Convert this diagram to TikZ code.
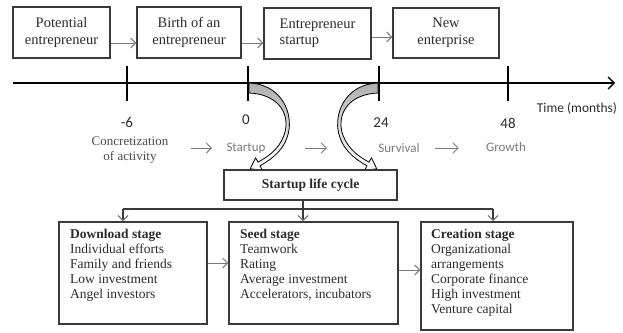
\documentclass[tikz,border=0pt]{standalone}
\usepackage{fontspec}
\setmainfont{Liberation Serif}
\newfontfamily\labelsans{Carlito}
\usetikzlibrary{arrows.meta}
\definecolor{boxline}{HTML}{3A3A3A}
\definecolor{textdark}{HTML}{2B2B2B}
\definecolor{softgray}{HTML}{7A7A7A}
\definecolor{shadegray}{HTML}{AFAFAF}

\begin{document}
\begin{tikzpicture}[x=1pt,y=-1pt,
  box/.style={draw=boxline, line width=1.5pt, inner sep=0pt},
  toptext/.style={font=\fontsize{14.5}{16.5}\selectfont, text=textdark, align=center},
  stagetext/.style={font=\fontsize{13.5}{15}\selectfont, text=textdark, align=left, anchor=north west, inner sep=0pt},
  flow/.style={draw=softgray, line width=0.9pt, -{Straight Barb[length=5pt,width=10pt]}},
  axisline/.style={draw=black, line width=1.4pt, -{Straight Barb[length=6pt,width=12pt]}},
  tickmark/.style={draw=black, line width=2pt},
  branch/.style={draw=boxline, line width=1.4pt},
  drop/.style={draw=boxline, line width=1.2pt, -{Straight Barb[length=5pt,width=10pt,color=softgray]}},
  ticklabel/.style={font=\labelsans\fontsize{15}{18}\selectfont, text=textdark},
  phase/.style={font=\labelsans\fontsize{13}{15}\selectfont, text=softgray},
  curvedarrow/.style={draw=black, line width=0.8pt, line join=round, top color=shadegray, middle color=white, bottom color=white}
]
\useasboundingbox (0,0) rectangle (623,332);

% entrepreneur path
\node[box, minimum width=97pt, minimum height=51pt, toptext] (pot) at (61.5,32.5) {Potential\\entrepreneur};
\node[box, minimum width=104pt, minimum height=51pt, toptext] (birth) at (189,32.5) {Birth of an\\entrepreneur};
\node[box, minimum width=107pt, minimum height=51pt, toptext, align=left] (ent) at (317.5,33.5) {Entrepreneur\\startup};
\node[box, minimum width=106pt, minimum height=50pt, toptext] (newent) at (446,33) {New\\enterprise};

\draw[flow] ([yshift=-10.5pt]pot.east) -- ([yshift=-10.5pt]birth.west);
\draw[flow] ([yshift=-10.5pt]birth.east) -- ([yshift=-10.5pt]birth.east -| ent.west);
\draw[flow] ([yshift=-3.5pt]ent.east) -- ([yshift=-3.5pt]ent.east -| newent.west);

% time axis
\coordinate (axs) at (13,83);
\coordinate (axe) at (615,83);
\draw[axisline] (axs) -- (axe);
\coordinate (t1) at (127,83);
\coordinate (t2) at (248,83);
\coordinate (t3) at (379,83);
\coordinate (t4) at (508,83);
\foreach \t in {t1,t2,t3,t4}
  \draw[tickmark] ([yshift=17pt]\t) -- ([yshift=-18pt]\t);

\node[font=\labelsans\fontsize{13.5}{16}\selectfont, text=textdark] (tlab) at (577,108) {Time (months)};

\node[ticklabel] (lm6) at (127,122) {-6};
\node[ticklabel] (l0) at (246,120) {0};
\node[ticklabel] (l24) at (381,123) {24};
\node[ticklabel] (l48) at (508,123) {48};

% phases
\node[font=\fontsize{13}{15}\selectfont, text=textdark!85, align=center] (concr) at (130,150) {Concretization\\of activity};
\node[phase] (sup) at (246,148) {Startup};
\node[phase] (surv) at (399,148) {Survival};
\node[phase] (grow) at (506,147) {Growth};

\draw[flow, shorten <=19pt, shorten >=11pt] (concr.east |- sup.west) -- (sup.west);
\draw[flow, shorten <=36pt, shorten >=48pt] (sup.east) -- (surv.west);
\draw[flow, shorten <=12pt, shorten >=24pt] (surv.east) -- (surv.east -| grow.west);

% curved arrows from the axis into the life cycle
\path[curvedarrow] (249,83) .. controls (278,84) and (292,108) .. (289,130)
  .. controls (286,148) and (274,158) .. (260,165.8) -- (262.4,170.2) -- (250.2,168.8)
  -- (255.6,157.8) -- (258,162.2) .. controls (271,155) and (282,146) .. (285.5,130)
  .. controls (289,110) and (275,94) .. (249,93) -- cycle;
\begin{scope}[shift={(627,0)}, xscale=-1]
\path[curvedarrow] (249,83) .. controls (278,84) and (292,108) .. (289,130)
  .. controls (286,148) and (274,158) .. (260,165.8) -- (262.4,170.2) -- (250.2,168.8)
  -- (255.6,157.8) -- (258,162.2) .. controls (271,155) and (282,146) .. (285.5,130)
  .. controls (289,110) and (275,94) .. (249,93) -- cycle;
\end{scope}

% life cycle
\node[box, minimum width=173pt, minimum height=30pt, font=\bfseries\fontsize{13.5}{16}\selectfont, text=textdark] (slc) at (310.5,185) {Startup life cycle};

\node[box, minimum width=148pt, minimum height=102pt] (dl) at (133,273) {};
\node[box, minimum width=169pt, minimum height=102pt] (seed) at (313.5,273) {};
\node[box, minimum width=152pt, minimum height=108pt] (crea) at (497,276) {};

\node[stagetext] (dltext) at (70,228.5) {\textbf{Download stage}\\Individual efforts\\Family and friends\\Low investment\\Angel investors};
\node[stagetext] (seedtext) at (240,228.5) {\textbf{Seed stage}\\Teamwork\\Rating\\Average investment\\Accelerators, incubators};
\node[stagetext] (creatext) at (431,228.5) {\textbf{Creation stage}\\Organizational\\arrangements\\Corporate finance\\High investment\\Venture capital};

\coordinate (brl) at (123,209);
\coordinate (brm) at (303,209);
\coordinate (brr) at (493,209);
\draw[branch] (brl) -- (brr);
\draw[branch] (slc.south -| brm) -- (brm);
\draw[drop] (brl) -- (brl |- dl.north);
\draw[drop] (brm) -- (brm |- seed.north);
\draw[drop] (brr) -- (brr |- crea.north);

\draw[flow] ([yshift=10pt]dl.east) -- ([yshift=10pt]seed.west);
\draw[flow] ([yshift=3pt]seed.east) -- ([yshift=3pt]seed.east -| crea.west);
\end{tikzpicture}
\end{document}
